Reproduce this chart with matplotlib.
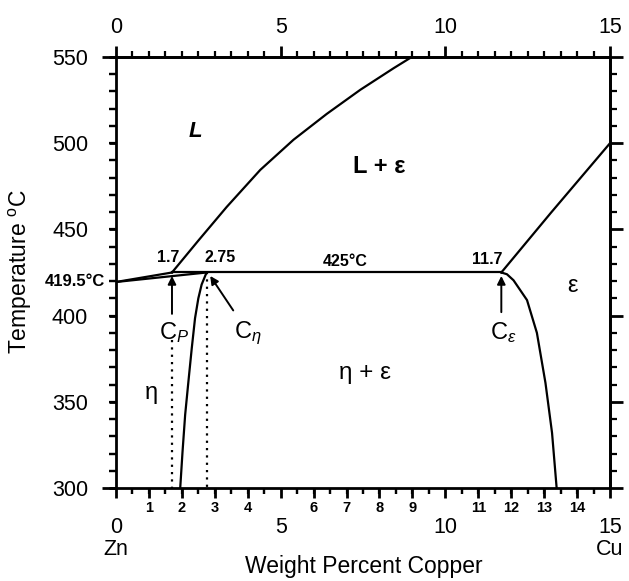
import matplotlib
matplotlib.use("Agg")
import matplotlib.pyplot as plt
import matplotlib.transforms as mtransforms
from matplotlib.ticker import MultipleLocator, FixedLocator
import numpy as np

plt.rcParams['font.family'] = ['Liberation Sans', 'DejaVu Sans']
plt.rcParams['mathtext.fontset'] = 'custom'
plt.rcParams['mathtext.rm'] = 'Liberation Sans'
plt.rcParams['mathtext.it'] = 'Liberation Sans:italic'
plt.rcParams['mathtext.bf'] = 'Liberation Sans:bold'
plt.rcParams['xtick.minor.visible'] = True
plt.rcParams['ytick.minor.visible'] = True

# ---------------- data (wt% Cu, temperature in C) ----------------
liquidus_x = [1.7, 2.5, 3.36, 4.38, 5.39, 6.40, 7.42, 8.43, 8.98]
liquidus_T = [425, 443.5, 463, 484.5, 502, 517, 531, 543.5, 550]

eps_liquidus_x = [11.7, 13.2, 15.0]
eps_liquidus_T = [425, 459.5, 500]

eps_solvus_x = [11.7, 11.87, 12.07, 12.48, 12.78, 13.04, 13.24, 13.38]
eps_solvus_T = [425, 424, 420.5, 409, 390, 361, 332, 300]

eta_solvus_x = [2.75, 2.60, 2.50, 2.40, 2.30, 2.20, 2.10, 2.02, 1.95]
eta_solvus_T = [425, 418, 410, 398.5, 381, 362, 342.5, 321, 300]

zn_liquidus_x = [0.0, 1.7]
zn_liquidus_T = [419.5, 425]
zn_solidus_x = [0.0, 2.75]
zn_solidus_T = [419.5, 425]

peritectic_x = [1.7, 11.7]
peritectic_T = [425, 425]

cp_x, ceta_x, ceps_x = 1.7, 2.75, 11.7
dot_cp_T = [386, 300]
dot_ceta_T = [425, 300]

y_major = [300, 350, 400, 450, 500, 550]
bottom_big = [0, 5, 10, 15]
bottom_big_labels = ['0\nZn', '5', '10', '15\nCu']
top_ticks = [0, 5, 10, 15]

# ---------------- figure ----------------
W, H = 629, 581
fig = plt.figure(figsize=(W / 100, H / 100), dpi=100)
x0, x1, y0, y1 = 116, 610, 57, 488
ax = fig.add_axes([x0 / W, 1 - y1 / H, (x1 - x0) / W, (y1 - y0) / H])
ax.set_xlim(0, 15)
ax.set_ylim(300, 550)

lw = 1.6
k = 'black'
ax.plot(liquidus_x, liquidus_T, color=k, lw=lw)
ax.plot(eps_liquidus_x, eps_liquidus_T, color=k, lw=lw)
ax.plot(eps_solvus_x, eps_solvus_T, color=k, lw=lw)
ax.plot(eta_solvus_x, eta_solvus_T, color=k, lw=lw)
ax.plot(zn_liquidus_x, zn_liquidus_T, color=k, lw=lw)
ax.plot(zn_solidus_x, zn_solidus_T, color=k, lw=lw)
ax.plot(peritectic_x, peritectic_T, color=k, lw=lw)
ax.plot([cp_x, cp_x], dot_cp_T, color=k, lw=1.6, ls=(0, (1, 2.3)))
ax.plot([ceta_x, ceta_x], dot_ceta_T, color=k, lw=1.6, ls=(0, (1, 2.3)))

ap = dict(arrowstyle='-|>', color=k, lw=1.4, mutation_scale=12, shrinkA=0, shrinkB=0)
ax.annotate('', xy=(cp_x, 423), xytext=(cp_x, 401), arrowprops=ap)
ax.annotate('', xy=(2.86, 423), xytext=(3.56, 403), arrowprops=ap)
ax.annotate('', xy=(ceps_x, 423), xytext=(ceps_x, 402), arrowprops=ap)

ax.text(1.75, 390, r'$\mathrm{C}_P$', fontsize=17, ha='center', va='center')
ax.text(4.0, 390, r'$\mathrm{C}_\eta$', fontsize=17, ha='center', va='center')
ax.text(11.75, 390, r'$\mathrm{C}_\varepsilon$', fontsize=17, ha='center', va='center')

ax.text(2.4, 507, 'L', fontsize=16, fontweight='bold', fontstyle='italic', ha='center', va='center')
ax.text(8.0, 486.5, 'L + ε', fontsize=17, fontweight='bold', ha='center', va='center')
ax.text(13.85, 417, 'ε', fontsize=17, ha='center', va='center')
ax.text(7.57, 366.5, 'η + ε', fontsize=17.5, ha='center', va='center')
ax.text(1.08, 355, 'η', fontsize=17, ha='center', va='center')

small = dict(fontsize=11.5, fontweight='bold', ha='center', va='center')
ax.text(1.58, 433.8, '1.7', **small)
ax.text(3.16, 433.5, '2.75', **small)
ax.text(6.96, 431.6, '425°C', **small)
ax.text(11.27, 432.3, '11.7', **small)

trans = mtransforms.blended_transform_factory(ax.transAxes, ax.transData)
ax.text(-11 / 494, 419.6, '419.5°C', transform=trans, fontsize=12,
        fontweight='bold', ha='right', va='center')

# ---------------- spines & ticks ----------------
for s in ax.spines.values():
    s.set_linewidth(2.0)

# bottom: integers long, halves short, small bold labels
ax.xaxis.set_major_locator(FixedLocator(list(range(16))))
ax.set_xticklabels(['' if i in bottom_big else str(i) for i in range(16)],
                   fontsize=10.5, fontweight='bold')
ax.xaxis.set_minor_locator(MultipleLocator(0.5))
ax.tick_params(axis='x', which='major', direction='out', length=7, width=2, pad=2,
               bottom=True, top=False)
ax.tick_params(axis='x', which='minor', direction='out', length=4, width=1.6,
               bottom=True, top=False)

# left
ax.yaxis.set_major_locator(FixedLocator(y_major))
ax.set_yticklabels([str(v) for v in y_major], fontsize=15.5)
ax.yaxis.set_minor_locator(MultipleLocator(10))
ax.tick_params(axis='y', which='major', direction='out', length=5, width=2, pad=15,
               left=True, right=False)
ax.tick_params(axis='y', which='minor', direction='out', length=5, width=1.6,
               left=True, right=False)

# bottom big labels
secb = ax.secondary_xaxis('bottom')
secb.set_xticks(bottom_big)
secb.set_xticklabels(bottom_big_labels, fontsize=15.5, linespacing=1.05)
secb.xaxis.set_minor_locator(MultipleLocator(0.5))
secb.tick_params(which='major', length=0, pad=21)
secb.tick_params(which='minor', direction='out', length=4, width=1.6)
secb.spines['bottom'].set_visible(False)

# top
sect = ax.secondary_xaxis('top')
sect.set_xticks(top_ticks)
sect.set_xticklabels([str(v) for v in top_ticks], fontsize=15.5)
sect.xaxis.set_minor_locator(MultipleLocator(0.5))
sect.tick_params(which='major', direction='out', length=8, width=2, pad=6)
sect.tick_params(which='minor', direction='out', length=4, width=1.6)
sect.spines['top'].set_linewidth(2.0)

# right
secr = ax.secondary_yaxis('right')
secr.set_yticks(y_major)
secr.set_yticklabels([])
secr.yaxis.set_minor_locator(MultipleLocator(10))
secr.tick_params(which='major', direction='out', length=9, width=2)
secr.tick_params(which='minor', direction='out', length=5, width=1.6)
secr.spines['right'].set_linewidth(2.0)

# left extended corners + minor ticks
secl = ax.secondary_yaxis('left')
secl.set_yticks([300, 550])
secl.set_yticklabels([])
secl.yaxis.set_minor_locator(MultipleLocator(10))
secl.tick_params(which='major', direction='out', length=10, width=2)
secl.tick_params(which='minor', direction='out', length=5, width=1.6)
secl.spines['left'].set_visible(False)

fig.text(20 / W, 1 - 272 / H, r'Temperature $^{\mathrm{o}}$C', rotation=90,
         fontsize=16.5, ha='center', va='center')
fig.text(364 / W, 1 - 567 / H, 'Weight Percent Copper', fontsize=16.5,
         ha='center', va='center')

fig.savefig('out.png', dpi=100)
